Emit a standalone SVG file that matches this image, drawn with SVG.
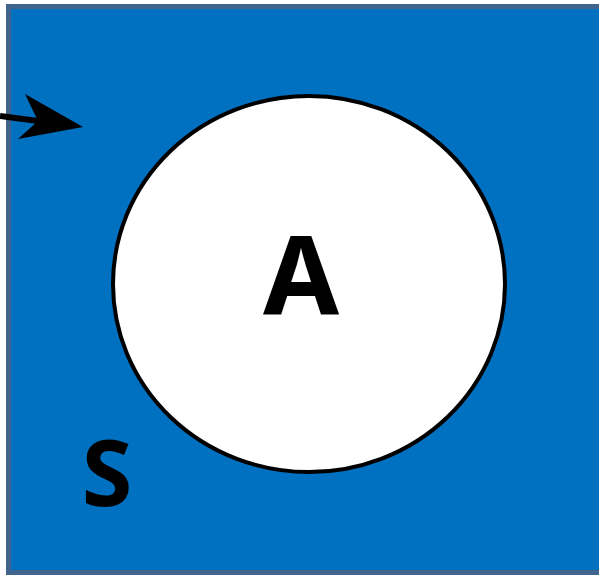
<svg xmlns="http://www.w3.org/2000/svg" width="599" height="577" viewBox="0 0 599 577">
<style>
.lbl{font-family:"Noto Sans","Open Sans","Liberation Sans",sans-serif;font-weight:bold;fill:#000;text-anchor:middle}
.edge{stroke:#41648C;stroke-width:5;fill:none}
</style>
<g id="S">
<rect x="8.5" y="6.5" width="600" height="566" fill="#0070C0"/>
<path class="edge" d="M610,6.5 H8.5 V572.5 H610"/>
<text class="lbl" x="107" y="506" font-size="92">S</text>
</g>
<g id="A">
<ellipse cx="309" cy="284" rx="196" ry="188" fill="#fff" stroke="#000" stroke-width="4"/>
<text class="lbl" x="301" y="314" font-size="110">A</text>
</g>
<g id="connectors">
<line x1="0" y1="116" x2="40" y2="121.3" stroke="#000" stroke-width="6"/>
<path d="M25,94 L83,127 L18,139 L38,121 Z" fill="#000"/>
</g>
</svg>
